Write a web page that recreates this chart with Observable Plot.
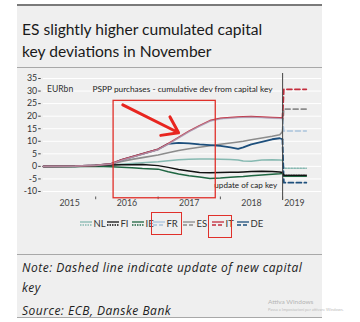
<!DOCTYPE html>
<html><head><meta charset="utf-8">
<script src="https://cdn.jsdelivr.net/npm/d3@7"></script>
<script src="https://cdn.jsdelivr.net/npm/@observablehq/plot@0.6"></script>
<style>
body{margin:0;width:360px;height:322px;background:#fff;position:relative;overflow:hidden;font-family:Lato,"Open Sans",sans-serif;}
#panel{position:absolute;left:17px;top:5px;width:305px;height:312px;background:#efefef;}
.hr{position:absolute;left:17px;width:305px;}
.t{position:absolute;white-space:nowrap;}
.n{font-family:"Open Sans",sans-serif;font-size:12px;letter-spacing:0.5px;line-height:14px;font-style:italic;color:#222;}
#chart{position:absolute;left:0;top:68px;}
#legend{position:absolute;left:0;top:0;font-size:9.5px;color:#333;}
.li{position:absolute;top:217px;height:12px;display:flex;align-items:center;white-space:nowrap;}
.li svg{margin-right:1.5px;}
.box{position:absolute;border:1.5px solid #e0302a;box-sizing:border-box;}
</style></head>
<body>
<div id="panel"></div>
<div class="hr" style="top:4px;height:2px;background:#7a7a7a"></div>
<div class="hr" style="top:67px;height:1px;background:#a8a8a8"></div>
<div class="hr" style="top:254px;height:1px;background:#a8a8a8"></div>
<div class="hr" style="top:316.5px;height:1.5px;background:#a8a8a8"></div>
<div class="t" style="left:22px;top:18px;font-size:15.6px;line-height:22px;color:#1a1a1a">ES slightly higher cumulated capital<br>key deviations in November</div>
<div id="chart"></div>
<div id="legend"></div>
<div class="box" style="left:151px;top:211.5px;width:31px;height:23px"></div>
<div class="box" style="left:208px;top:215px;width:24px;height:23px"></div>
<div class="t n" style="left:22px;top:261px">Note: Dashed line indicate update of new capital</div>
<div class="t n" style="left:22px;top:280.5px">key</div>
<div class="t n" style="left:22px;top:304px">Source: ECB, Danske Bank</div>
<div class="t" style="left:268px;top:298px;font-size:6.5px;color:#b5b5b5">Attiva Windows</div>
<div class="t" style="left:268px;top:307px;font-size:4px;color:#bdbdbd">Passa a Impostazioni per attivare Windows.</div>
<script>
// ---- data ----
const dates = ["2015-03-01","2015-09-01","2016-01-01","2016-04-01","2016-06-01","2016-08-01","2016-10-01","2017-01-01","2017-03-01","2017-05-01","2017-07-01","2017-09-01","2017-11-01","2018-01-01","2018-03-01","2018-04-15","2018-05-15","2018-07-01","2018-09-01","2018-11-01","2018-12-15","2018-12-31"];
const NL = [0,0,0.2,0.5,0.8,1.1,1.4,1.8,2.2,2.6,2.8,2.9,2.9,2.8,2.7,2.5,2.1,2.0,2.5,2.6,2.5,2.4];
const FI = [0,0,0.3,0.5,0.6,0.6,0.7,0.3,-0.4,-1.2,-1.8,-2.4,-2.5,-2.4,-2.3,-2.3,-2.2,-2.0,-1.9,-2.0,-2.2,-2.4];
const IE = [0,0,0.1,-0.1,-0.3,-0.5,-0.8,-1.1,-2.1,-3.0,-3.7,-4.2,-4.8,-4.6,-4.3,-4.1,-4.0,-3.7,-3.4,-3.1,-2.9,-2.8];
const FR = [0,0.1,0.4,0.9,2.4,3.6,4.8,6.6,8.8,11.3,13.8,16.0,18.0,18.9,19.2,19.4,19.5,19.6,19.4,19.2,19.1,19.0];
const ES = [0,0.1,0.4,0.9,2.0,2.8,3.5,4.5,5.4,6.3,7.0,7.6,8.2,8.8,9.3,9.7,10.0,10.6,11.3,12.0,12.6,13.8];
const IT = [0,0.1,0.4,1.0,2.6,3.8,5.0,6.8,9.0,11.5,14.0,16.2,18.2,19.1,19.4,19.6,19.7,19.8,19.6,19.4,19.3,19.2];
const DE = [0,0.1,0.4,1.0,2.6,3.8,5.0,6.8,9.0,9.4,9.2,8.8,8.5,8.2,7.6,7.0,7.6,8.8,9.8,10.8,11.2,10.8];
// after capital key update (dashed)
const updDates = ["2018-12-31","2019-01-08","2019-05-20"];
const updNL = [2.4,-0.7,-0.7];
const updFI = [-2.4,-3.5,-3.5];
const updIE = [-2.8,-3.9,-3.9];
const updFR = [19.0,14.1,14.1];
const updES = [13.8,22.8,22.8];
const updIT = [19.2,30.7,30.7];
const updDE = [10.8,-6.5,-6.5];
const countries = ["NL","FI","IE","FR","ES","IT","DE"];
const colors = ["#86b9b1","#111111","#1f6642","#a9c3dc","#8c8c8c","#c42d3d","#1d4f7c"];
const yTicks = [-10,-5,0,5,10,15,20,25,30,35];
const yearLabels = ["2015","2016","2017","2018","2019"];
const updateDate = "2019-01-01";
// annotations
const boxX = ["2016-04-15","2017-12-05"], boxY = [26.1,-12.7];
const arrowFrom = ["2016-06-08",24.5], arrowTo = ["2017-05-01",13.4];

// ---- build ----
const P = d3.utcParse("%Y-%m-%d");
const main = {NL,FI,IE,FR,ES,IT,DE};
const upd = {NL:updNL,FI:updFI,IE:updIE,FR:updFR,ES:updES,IT:updIT,DE:updDE};
const col = Object.fromEntries(countries.map((c,i)=>[c,colors[i]]));
const dashes = {NL:"1.5,1.5",FI:"1.5,1",IE:"1.5,1",FR:"5,3",ES:"5,3",IT:"5,3",DE:"5,3"};
const widths = {NL:1.5,FI:1.5,IE:1.5,FR:1.6,ES:1.6,IT:1.8,DE:1.8};
const xDomain = [P("2015-03-01"), P("2019-08-17")];
const dataEnd = P(updDates[updDates.length-1]);
const yearMid = yearLabels.map(y=>{
  const a = Math.max(+P(y+"-01-01"), +xDomain[0]);
  const b = Math.min(+P((+y+1)+"-01-01"), +dataEnd);
  return {label:y, x:new Date((a+b)/2)};
});
const order = ["NL","ES","DE","IE","FI","IT","FR"];
const lineMarks = [];
for (const c of order) {
  lineMarks.push(Plot.line(dates.map((d,i)=>({x:P(d),y:main[c][i]})), {x:"x",y:"y",stroke:col[c],strokeWidth:widths[c],strokeOpacity:c==="FR"?0.6:1}));
}
const dashMarks = [];
for (const c of order) {
  dashMarks.push(Plot.line(updDates.map((d,i)=>({x:P(d),y:upd[c][i]})), {x:"x",y:"y",stroke:col[c],strokeWidth:widths[c],strokeDasharray:dashes[c]}));
}
const chart = Plot.plot({
  width:360, height:186,
  marginLeft:43, marginRight:39, marginTop:5, marginBottom:58,
  style:{background:"transparent",fontFamily:"Lato, sans-serif",fontSize:"8px",color:"#333",overflow:"visible"},
  x:{type:"utc",domain:xDomain,axis:null},
  y:{domain:[-12,37],axis:null},
  marks:[
    Plot.gridY(yTicks,{stroke:"#fff",strokeOpacity:1,strokeWidth:1}),
    Plot.axisY(yTicks,{label:null,tickSize:2.5,tickPadding:1.5,dx:-2.3,fontSize:8.8,tickFormat:d=>String(d),stroke:"#444",fill:"#333"}),
    Plot.text(["EURbn"],{x:()=>xDomain[0],y:()=>30.9,text:d=>d,textAnchor:"start",dx:3.5,fontSize:8.6,fill:"#333"}),
    Plot.text(["PSPP purchases - cumulative dev from capital key"],{frameAnchor:"top",dy:12.7,text:d=>d,fontSize:8.3,fill:"#222"}),
    ...lineMarks,
    ...dashMarks,
    Plot.ruleX([P(updateDate)],{y1:37,y2:-13.6,stroke:"#444",strokeWidth:1}),
    Plot.text(["update of cap key"],{x:()=>P(updateDate),y:()=>-7.5,text:d=>d,textAnchor:"end",dx:-5.5,fontSize:8.1,fill:"#222"}),
    Plot.ruleX(yearLabels.slice(1).map(y=>P(y+"-01-01")),{y1:-12.2,y2:-13.3,stroke:"#555"}),
    Plot.text(yearMid,{x:"x",frameAnchor:"bottom",dy:9.5,text:"label",fontSize:8.8,fill:"#444"}),
    Plot.rect([0],{x1:()=>P(boxX[0]),x2:()=>P(boxX[1]),y1:()=>boxY[0],y2:()=>boxY[1],fill:"none",stroke:"#e0302a",strokeWidth:1.3}),
    Plot.arrow([0],{x1:()=>P(arrowFrom[0]),y1:()=>arrowFrom[1],x2:()=>P(arrowTo[0]),y2:()=>arrowTo[1],stroke:"#e8251f",strokeWidth:3,headLength:9,headAngle:70})
  ]
});
document.getElementById("chart").appendChild(chart);
// legend (item left edges in px, layout only)
const legLeft = [80,107,132,153,183,212,237];
const leg = document.getElementById("legend");
countries.forEach((c,i)=>{
  const it = document.createElement("div"); it.className="li"; it.style.left = legLeft[i]+"px";
  it.innerHTML = `<svg width="12" height="7"><line x1="0" x2="12" y1="2" y2="2" stroke="${col[c]}" stroke-width="1.3"/><line x1="0" x2="12" y1="5" y2="5" stroke="${col[c]}" stroke-width="1.3" stroke-dasharray="${c==='NL'||c==='FI'||c==='IE'?'1.5,1':'4,2'}"/></svg><span>${c}</span>`;
  leg.appendChild(it);
});
</script>
</body></html>
